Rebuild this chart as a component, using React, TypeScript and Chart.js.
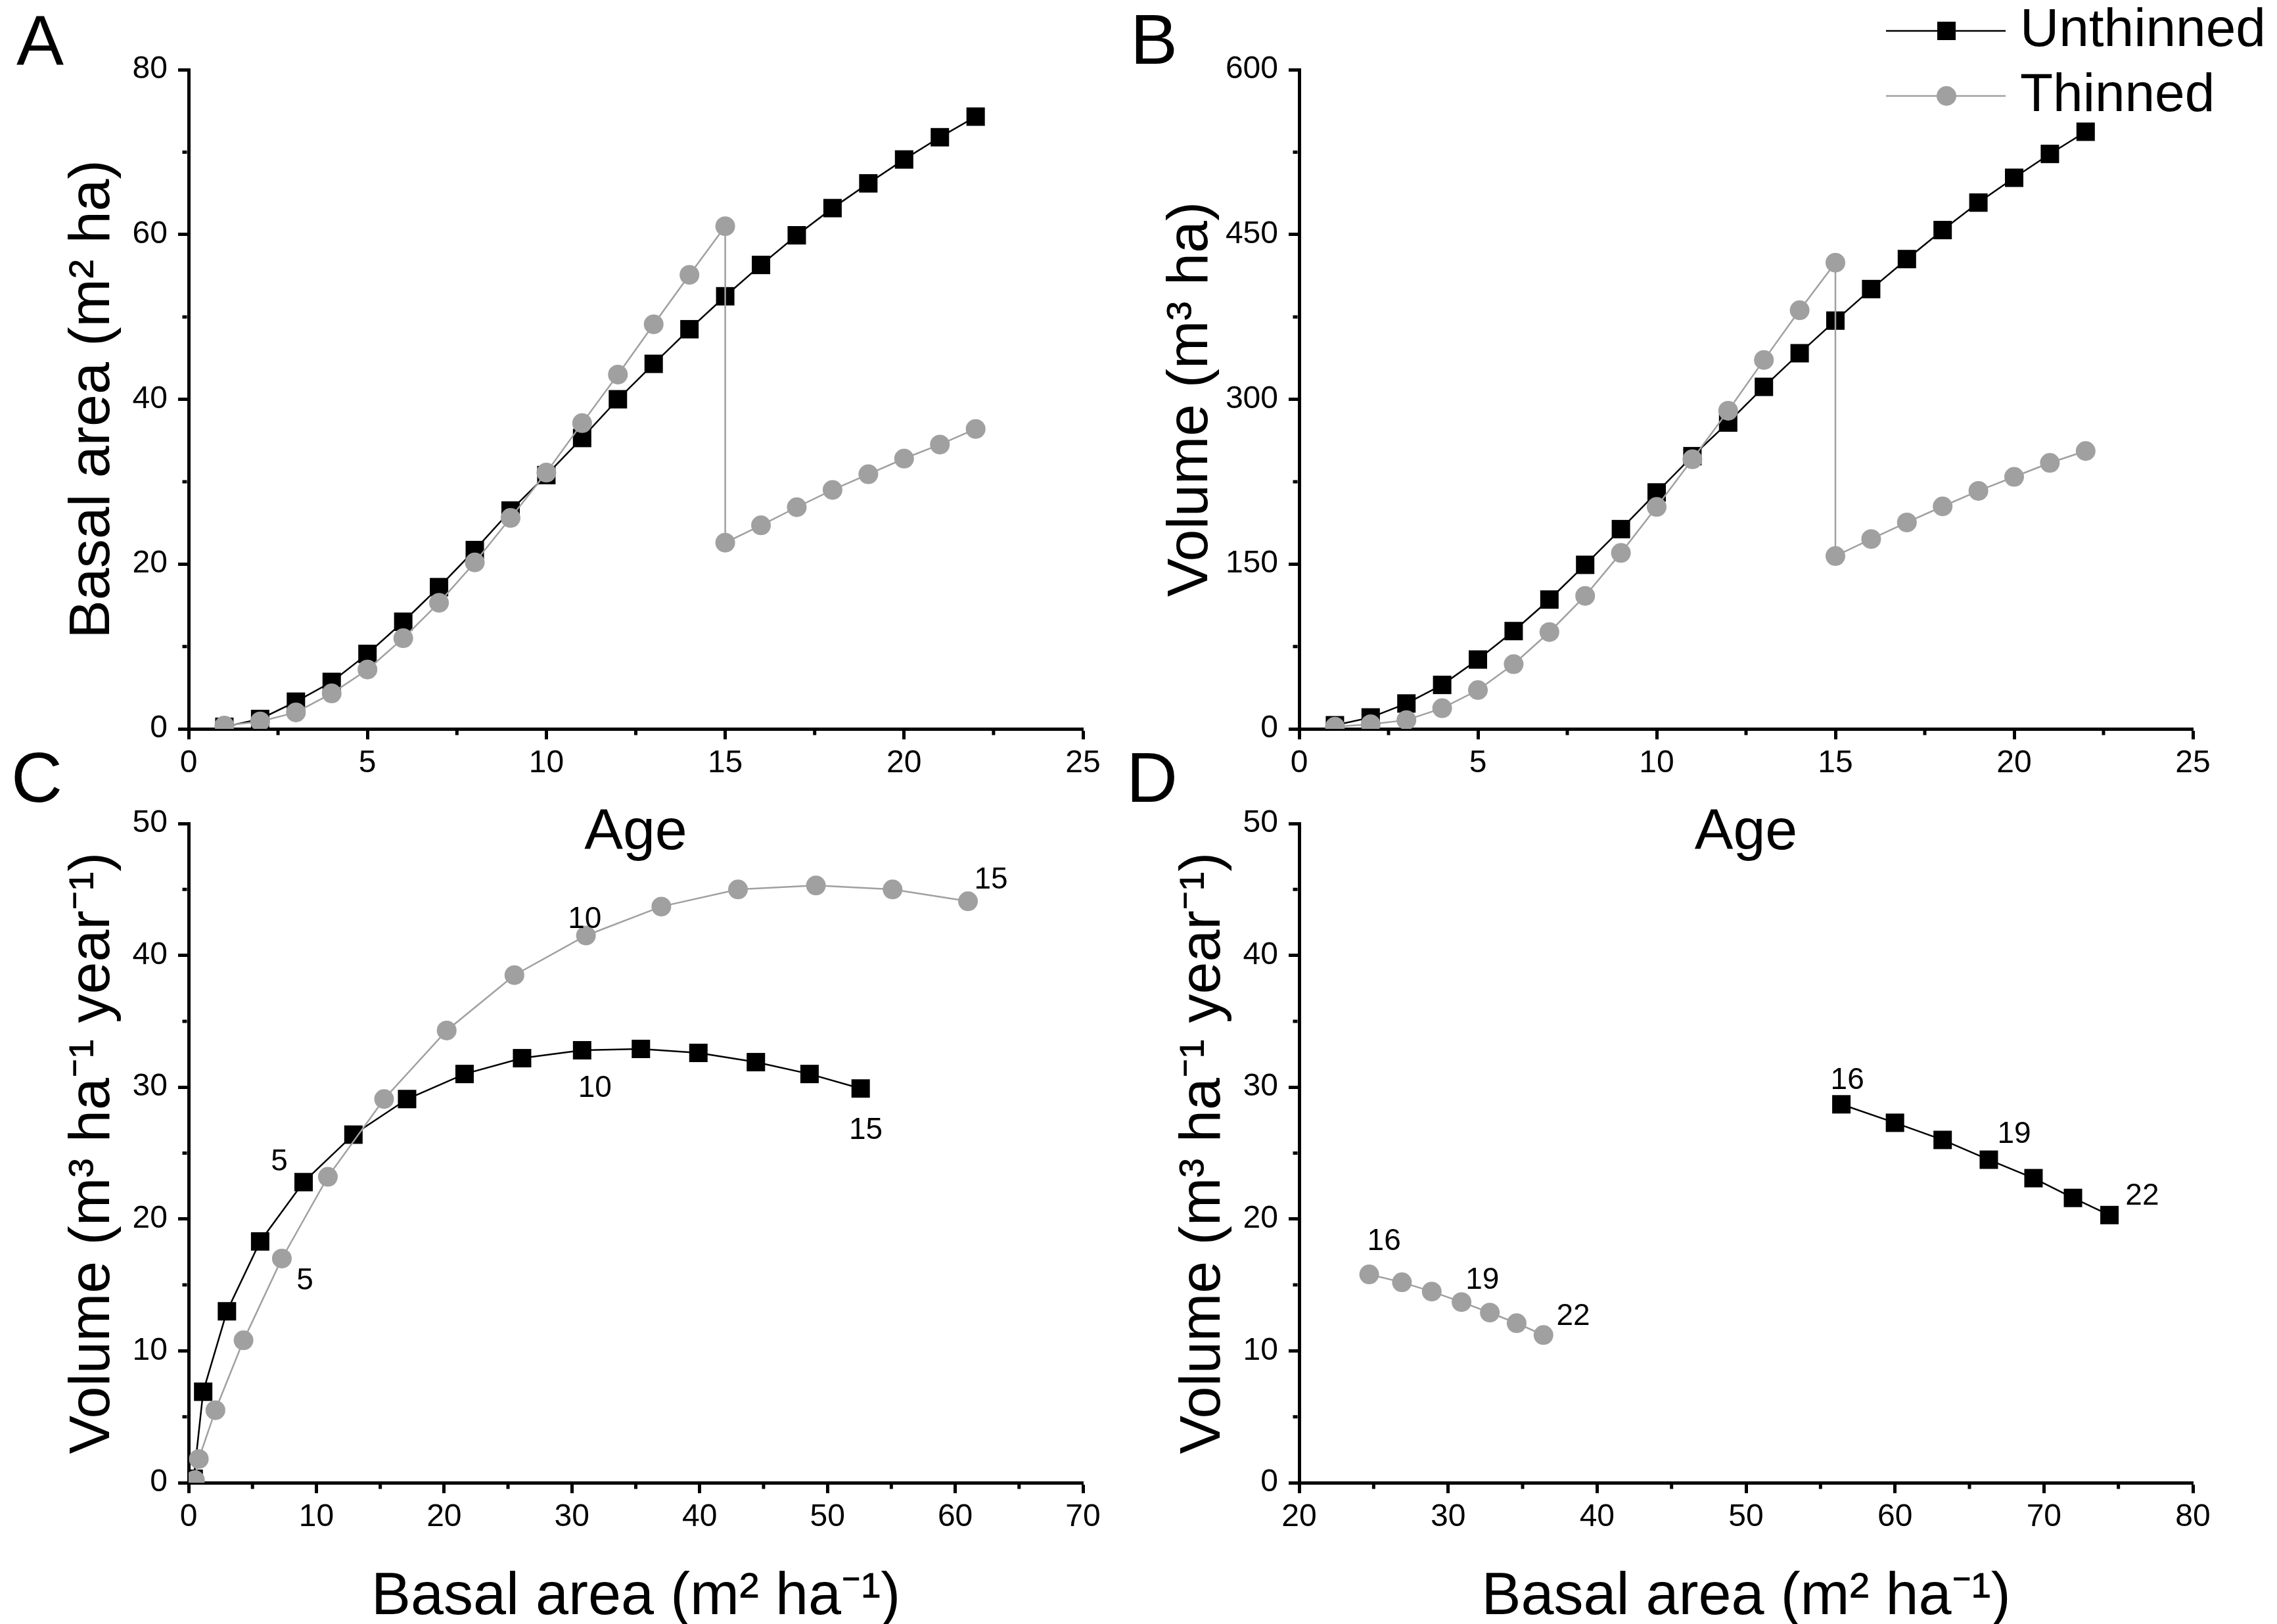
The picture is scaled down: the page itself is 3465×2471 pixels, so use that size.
import React, { useEffect, useRef } from 'react';
import { Chart, registerables } from 'chart.js';

Chart.register(...registerables);

const FONT = "'Liberation Sans', Arial, Helvetica, sans-serif";
const BLACK = '#000000';
const GREY = '#a0a0a0';
const PAGE_W = 3465;
const PAGE_H = 2471;

// ---------- data ----------
const ages = [1, 2, 3, 4, 5, 6, 7, 8, 9, 10, 11, 12, 13, 14, 15, 16, 17, 18, 19, 20, 21, 22];
// thinned series repeats age 15 (before / after thinning)
const agesThinned = [1, 2, 3, 4, 5, 6, 7, 8, 9, 10, 11, 12, 13, 14, 15, 15, 16, 17, 18, 19, 20, 21, 22];

const basalUnthinned = [0.25, 1.2, 3.3, 5.7, 9.1, 13.0, 17.2, 21.7, 26.5, 30.8, 35.3, 40.0, 44.3, 48.5, 52.5, 56.3, 59.9, 63.2, 66.2, 69.1, 71.8, 74.3];
const basalThinned = [0.4, 0.9, 2.0, 4.3, 7.2, 11.0, 15.3, 20.2, 25.6, 31.1, 37.1, 43.0, 49.1, 55.1, 61.0, 22.6, 24.7, 26.9, 29.0, 30.9, 32.8, 34.5, 36.4];

const volumeUnthinned = [3.3, 10.4, 23.1, 40.0, 63.1, 89.0, 117.7, 149.3, 181.8, 215.2, 248.2, 278.8, 311.3, 341.9, 371.6, 400.3, 427.6, 454.0, 479.0, 501.6, 523.3, 543.5];
const volumeThinned = [1.9, 4.2, 8.0, 18.8, 35.3, 58.9, 88.1, 121.0, 160.1, 202.0, 245.4, 289.6, 335.8, 381.0, 424.3, 157.3, 172.8, 187.9, 202.5, 216.6, 229.4, 242.1, 252.9];

// panel C: ages 1-15
const cBasalUnthinned = [0.4, 1.14, 3.0, 5.6, 9.0, 12.9, 17.1, 21.6, 26.1, 30.8, 35.4, 39.9, 44.4, 48.6, 52.6];
const cIncUnthinned = [0.3, 6.9, 13.0, 18.3, 22.8, 26.4, 29.1, 31.0, 32.2, 32.8, 32.9, 32.6, 31.9, 31.0, 29.9];
const cBasalThinned = [0.5, 0.8, 2.1, 4.3, 7.3, 10.9, 15.3, 20.2, 25.5, 31.1, 37.0, 43.0, 49.1, 55.1, 61.0];
const cIncThinned = [0.2, 1.8, 5.5, 10.8, 17.0, 23.2, 29.1, 34.3, 38.5, 41.5, 43.7, 45.0, 45.3, 45.0, 44.1];

// panel D: ages 16-22
const dBasalUnthinned = [56.4, 60.0, 63.2, 66.3, 69.3, 71.95, 74.4];
const dIncUnthinned = [28.7, 27.3, 26.0, 24.5, 23.1, 21.6, 20.3];
const dBasalThinned = [24.7, 26.9, 28.9, 30.9, 32.8, 34.6, 36.4];
const dIncThinned = [15.8, 15.2, 14.5, 13.7, 12.9, 12.1, 11.2];

// age annotations (text, basal area, increment)
const cAgeLabels: [string, number, number][] = [
  ['5', 7.1, 24.3], ['5', 9.1, 15.3], ['10', 31.0, 42.7], ['10', 31.8, 29.9], ['15', 62.8, 45.7], ['15', 53.0, 26.7],
];
const dAgeLabels: [string, number, number][] = [
  ['16', 56.8, 30.5], ['19', 68.0, 26.4], ['22', 76.6, 21.7], ['16', 25.7, 18.3], ['19', 32.3, 15.35], ['22', 38.4, 12.6],
];

const seriesNames = ['Unthinned', 'Thinned'];

// ---------- chart building ----------
interface SeriesSpec { label: string; xs: number[]; ys: number[]; color: string; style: 'rect' | 'circle'; order: number }
interface PanelSpec {
  letter: string; letterX: number; letterY: number;
  left: number; right: number; top: number; bottom: number;
  yBoxLeft: number; yTitlePad: number; xAxisHeight: number; xTitlePad: number; xTitleSize: number;
  xMin: number; xMax: number; xStep: number; xTitle: string;
  yMin: number; yMax: number; yStep: number; yTitle: string;
  series: SeriesSpec[]; marks: [string, number, number][]; legend: boolean;
}

const unth = (xs: number[], ys: number[]): SeriesSpec => ({ label: seriesNames[0], xs, ys, color: BLACK, style: 'rect', order: 1 });
const thin = (xs: number[], ys: number[]): SeriesSpec => ({ label: seriesNames[1], xs, ys, color: GREY, style: 'circle', order: 0 });

const panels: PanelSpec[] = [
  {
    letter: 'A', letterX: 25, letterY: 99,
    left: 287, right: 1648, top: 106, bottom: 1109,
    yBoxLeft: 0, yTitlePad: 97.5, xAxisHeight: 210, xTitlePad: 7, xTitleSize: 88,
    xMin: 0, xMax: 25, xStep: 5, xTitle: 'Age',
    yMin: 0, yMax: 80, yStep: 20, yTitle: 'Basal area (m² ha)',
    series: [unth(ages, basalUnthinned), thin(agesThinned, basalThinned)], marks: [], legend: false,
  },
  {
    letter: 'B', letterX: 1720, letterY: 97,
    left: 1977, right: 3337, top: 106, bottom: 1109,
    yBoxLeft: 1740, yTitlePad: 28.5, xAxisHeight: 210, xTitlePad: 7, xTitleSize: 88,
    xMin: 0, xMax: 25, xStep: 5, xTitle: 'Age',
    yMin: 0, yMax: 600, yStep: 150, yTitle: 'Volume (m³ ha)',
    series: [unth(ages, volumeUnthinned), thin(agesThinned, volumeThinned)], marks: [], legend: true,
  },
  {
    letter: 'C', letterX: 17, letterY: 1220,
    left: 287, right: 1648, top: 1253, bottom: 2256,
    yBoxLeft: 0, yTitlePad: 97.5, xAxisHeight: 215, xTitlePad: -5, xTitleSize: 90,
    xMin: 0, xMax: 70, xStep: 10, xTitle: 'Basal area (m² ha⁻¹)',
    yMin: 0, yMax: 50, yStep: 10, yTitle: 'Volume (m³ ha⁻¹ year⁻¹)',
    series: [unth(cBasalUnthinned, cIncUnthinned), thin(cBasalThinned, cIncThinned)], marks: cAgeLabels, legend: false,
  },
  {
    letter: 'D', letterX: 1714, letterY: 1220,
    left: 1977, right: 3337, top: 1253, bottom: 2256,
    yBoxLeft: 1740, yTitlePad: 47.5, xAxisHeight: 215, xTitlePad: -5, xTitleSize: 90,
    xMin: 20, xMax: 80, xStep: 10, xTitle: 'Basal area (m² ha⁻¹)',
    yMin: 0, yMax: 50, yStep: 10, yTitle: 'Volume (m³ ha⁻¹ year⁻¹)',
    series: [unth(dBasalUnthinned, dIncUnthinned), thin(dBasalThinned, dIncThinned)], marks: dAgeLabels, legend: false,
  },
];

const AXIS_W = 5;
const MAJOR_TICK = 16;
const MINOR_TICK = 7;

function decorPlugin(spec: PanelSpec) {
  return {
    id: 'decor' + spec.letter,
    afterDraw(chart: any) {
      const { ctx, chartArea } = chart;
      const xS = chart.scales.x;
      const yS = chart.scales.y;
      ctx.save();
      // minor ticks (midpoints between library ticks)
      ctx.strokeStyle = BLACK;
      ctx.lineWidth = AXIS_W;
      ctx.lineCap = 'butt';
      ctx.beginPath();
      const yt = yS.ticks.map((t: any) => t.value);
      for (let i = 0; i < yt.length - 1; i++) {
        const p = yS.getPixelForValue((yt[i] + yt[i + 1]) / 2);
        ctx.moveTo(chartArea.left - AXIS_W / 2, p);
        ctx.lineTo(chartArea.left - AXIS_W / 2 - MINOR_TICK, p);
      }
      const xt = xS.ticks.map((t: any) => t.value);
      for (let i = 0; i < xt.length - 1; i++) {
        const p = xS.getPixelForValue((xt[i] + xt[i + 1]) / 2);
        ctx.moveTo(p, chartArea.bottom + AXIS_W / 2);
        ctx.lineTo(p, chartArea.bottom + AXIS_W / 2 + MINOR_TICK);
      }
      ctx.stroke();

      // age annotations
      ctx.fillStyle = BLACK;
      ctx.font = `46px ${FONT}`;
      ctx.textAlign = 'center';
      ctx.textBaseline = 'middle';
      for (const [t, x, y] of spec.marks) {
        ctx.fillText(t, xS.getPixelForValue(x), yS.getPixelForValue(y));
      }

      // panel letter
      ctx.font = `108px ${FONT}`;
      ctx.textAlign = 'left';
      ctx.textBaseline = 'alphabetic';
      ctx.fillText(spec.letter, spec.letterX, spec.letterY);

      // legend
      if (spec.legend) {
        const rows = [47, 146];
        chart.data.datasets.forEach((ds: any, i: number) => {
          const y = rows[i];
          ctx.strokeStyle = ds.borderColor;
          ctx.lineWidth = 2.5;
          ctx.beginPath();
          ctx.moveTo(2870, y);
          ctx.lineTo(3052, y);
          ctx.stroke();
          ctx.fillStyle = ds.pointBackgroundColor;
          if (ds.pointStyle === 'rect') {
            ctx.fillRect(2962 - 14, y - 14, 28, 28);
          } else {
            ctx.beginPath();
            ctx.arc(2962, y, 15, 0, Math.PI * 2);
            ctx.fill();
          }
          ctx.fillStyle = BLACK;
          ctx.font = `82px ${FONT}`;
          ctx.textAlign = 'left';
          ctx.textBaseline = 'middle';
          ctx.fillText(ds.label, 3074, y);
        });
      }
      ctx.restore();
    },
  };
}

function buildConfig(spec: PanelSpec): any {
  const datasets = spec.series.map((s) => ({
    label: s.label,
    data: s.xs.map((x, i) => ({ x, y: s.ys[i] })),
    showLine: true,
    borderColor: s.color,
    borderWidth: 2.5,
    pointBackgroundColor: s.color,
    pointBorderWidth: 0,
    pointStyle: s.style,
    pointRadius: s.style === 'rect' ? 19.8 : 15,
    tension: 0,
    order: s.order,
  }));
  const tickFont = { family: FONT, size: 48, lineHeight: 1 };
  const yTitleFont = { family: FONT, size: 88, lineHeight: 1 };
  const xTitleFont = { family: FONT, size: spec.xTitleSize, lineHeight: 1 };
  const grid = { display: true, drawOnChartArea: false, drawTicks: true, tickLength: MAJOR_TICK, tickWidth: AXIS_W, tickColor: BLACK };
  const border = { display: true, color: BLACK, width: AXIS_W };
  return {
    type: 'scatter',
    data: { datasets },
    options: {
      responsive: false,
      animation: false,
      devicePixelRatio: 1,
      events: [],
      layout: {
        padding: {
          left: spec.yBoxLeft,
          right: PAGE_W - spec.right,
          top: spec.top,
          bottom: PAGE_H - spec.bottom - spec.xAxisHeight,
        },
      },
      plugins: { legend: { display: false }, tooltip: { enabled: false } },
      scales: {
        x: {
          type: 'linear',
          position: 'bottom',
          min: spec.xMin,
          max: spec.xMax,
          ticks: { stepSize: spec.xStep, autoSkip: false, maxRotation: 0, color: BLACK, font: tickFont, padding: 13 },
          grid,
          border,
          title: { display: true, text: spec.xTitle, color: BLACK, font: xTitleFont, padding: { top: 0, bottom: spec.xTitlePad } },
          afterFit: (s: any) => { s.height = spec.xAxisHeight; },
        },
        y: {
          type: 'linear',
          position: 'left',
          min: spec.yMin,
          max: spec.yMax,
          ticks: { stepSize: spec.yStep, autoSkip: false, color: BLACK, font: tickFont, padding: 16 },
          grid,
          border,
          title: { display: true, text: spec.yTitle, color: BLACK, font: yTitleFont, padding: { top: spec.yTitlePad, bottom: 0 } },
          afterFit: (s: any) => { s.width = spec.left - spec.yBoxLeft; },
        },
      },
    },
    plugins: [decorPlugin(spec)],
  };
}

function PanelCanvas({ spec }: { spec: PanelSpec }) {
  const ref = useRef<HTMLCanvasElement | null>(null);
  useEffect(() => {
    if (!ref.current) return;
    const chart = new Chart(ref.current, buildConfig(spec));
    return () => chart.destroy();
  }, [spec]);
  return (
    <canvas
      ref={ref}
      width={PAGE_W}
      height={PAGE_H}
      style={{ position: 'absolute', left: 0, top: 0, width: PAGE_W, height: PAGE_H }}
    />
  );
}

export default function App() {
  return (
    <div style={{ position: 'absolute', left: 0, top: 0, width: PAGE_W, height: PAGE_H, background: '#ffffff', overflow: 'hidden' }}>
      {panels.map((p) => (
        <PanelCanvas key={p.letter} spec={p} />
      ))}
    </div>
  );
}
